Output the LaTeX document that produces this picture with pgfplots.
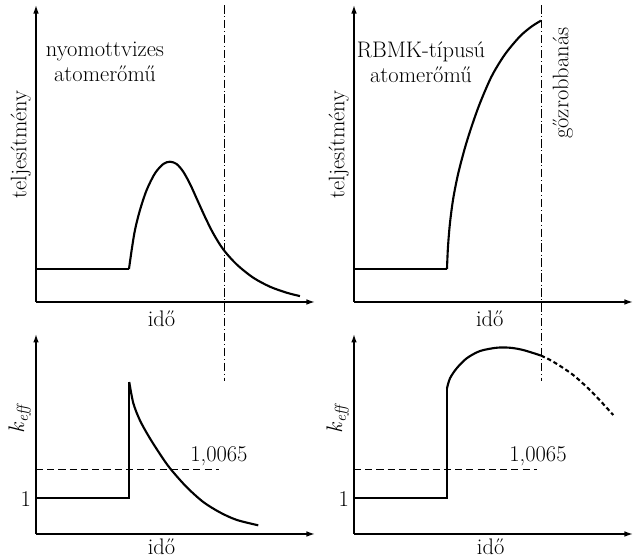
\documentclass[border=0pt]{standalone}
\usepackage{fontspec}
\usepackage{pgfplots}
\pgfplotsset{compat=1.18}
\usetikzlibrary{arrows.meta}

% one data unit = one pixel of the 638x559 reference, y counted upwards
\pgfplotsset{
  panel/.style={
    x=0.025cm, y=0.025cm,
    scale only axis,
    axis lines=left,
    axis line style={line width=1pt, -{Latex[length=6pt,width=4pt]}},
    clip=false,
    anchor=south west,
    xtick=\empty,
    major tick length=0pt,
    xlabel={idő},
    cycle list={{black}},
    no markers,
    every axis plot/.append style={black, line width=1.5pt},
  },
  toppanel/.style={
    panel, ymin=257, ymax=554, ytick=\empty,
    ylabel={teljesítmény},
    ylabel style={at={(axis description cs:0,0.53)}, anchor=south, rotate=0},
    xlabel style={at={(axis description cs:0.45,0)}, anchor=north, yshift=-3pt},
  },
  botpanel/.style={
    panel, ymin=25, ymax=225, ytick={60}, yticklabels={1},
    ylabel={\itshape k\textsubscript{eff}},
    ylabel style={at={(axis description cs:0,0.58)}, anchor=south, xshift=-1pt},
    xlabel style={at={(axis description cs:0.45,0)}, anchor=north},
  },
  dashdot/.style={line width=0.6pt, dash pattern=on 6pt off 2pt on 0.6pt off 2pt},
  thresh/.style={line width=0.8pt, dash pattern=on 5pt off 3pt},
}

\begin{document}
\begin{tikzpicture}[font=\fontsize{16}{18}\selectfont]
\useasboundingbox (0,0) rectangle (15.95cm,13.975cm);

% top left: pressurised water reactor
\begin{axis}[toppanel, at={(0.9cm,6.425cm)}, xmin=36, xmax=315]
  \addplot coordinates {(36,290) (129,290)};
  \addplot[smooth] coordinates {
    (129,290) (131.7,309) (135,329) (140,349) (146.7,369) (155,385.7)
    (163.3,395) (170,397.3) (176.7,395) (183.3,387.3) (190,375.2)
    (196.7,360.5) (205,342.2) (213.3,325.6) (223.3,309.6) (236.7,294.6)
    (253.3,281.3) (270,272.3) (286.7,266.3) (300,262.9)
  };
  \addplot[dashdot] coordinates {(224,554) (224,178)};
  \node[align=center] at (axis cs:105,497) {nyomottvizes\\atomerőmű};
\end{axis}

% top right: RBMK
\begin{axis}[toppanel, at={(8.85cm,6.425cm)}, xmin=354, xmax=633,
  xlabel style={at={(axis description cs:0.487,0)}}]
  \addplot coordinates {(354,290) (447,290)};
  \addplot[smooth] coordinates {
    (447,290) (448,312) (450,336) (453.3,360.8) (458.3,385.8) (465,411.3)
    (471.7,432.7) (480,455.9) (491.7,482.8) (505,504.7) (520,522.7)
    (531.7,532.6) (541,538.4)
  };
  \addplot[dashdot] coordinates {(541,554) (541,178)};
  \node[align=center] at (axis cs:421,497) {RBMK-típusú\\atomerőmű};
  \node[rotate=90] at (axis cs:563,476) {gőzrobbanás};
\end{axis}

% bottom left
\begin{axis}[botpanel, at={(0.9cm,0.625cm)}, xmin=36, xmax=315]
  \addplot[thresh] coordinates {(36,89.7) (219,89.7)};
  \addplot coordinates {(36,61) (129,61) (129,177)};
  \addplot[smooth] coordinates {
    (129.3,177) (133.3,156) (140,138.6) (150,120.6) (163.3,100) (171.7,88.7)
    (186.7,71.9) (203.3,57) (220,46.6) (236.7,39.1) (258.3,33.7)
  };
  \node at (axis cs:219,103) {1,0065};
\end{axis}

% bottom right
\begin{axis}[botpanel, at={(8.85cm,0.625cm)}, xmin=354, xmax=633,
  xlabel style={at={(axis description cs:0.49,0)}}]
  \addplot[thresh] coordinates {(354,89.7) (537,89.7)};
  \addplot coordinates {(354,61) (447,61) (447,170.7)};
  \addplot[smooth] coordinates {
    (447,170.7) (450,180.7) (456.7,190.7) (466.7,200.7) (480,208)
    (496.7,211.3) (510,211.3) (523.3,209) (541,203.5)
  };
  \addplot[smooth, dash pattern=on 3pt off 2pt] coordinates {
    (541,203.5) (553.3,197.3) (573.3,184) (593.3,165.7) (613.3,144)
  };
  \node at (axis cs:538,103) {1,0065};
\end{axis}
\end{tikzpicture}
\end{document}
